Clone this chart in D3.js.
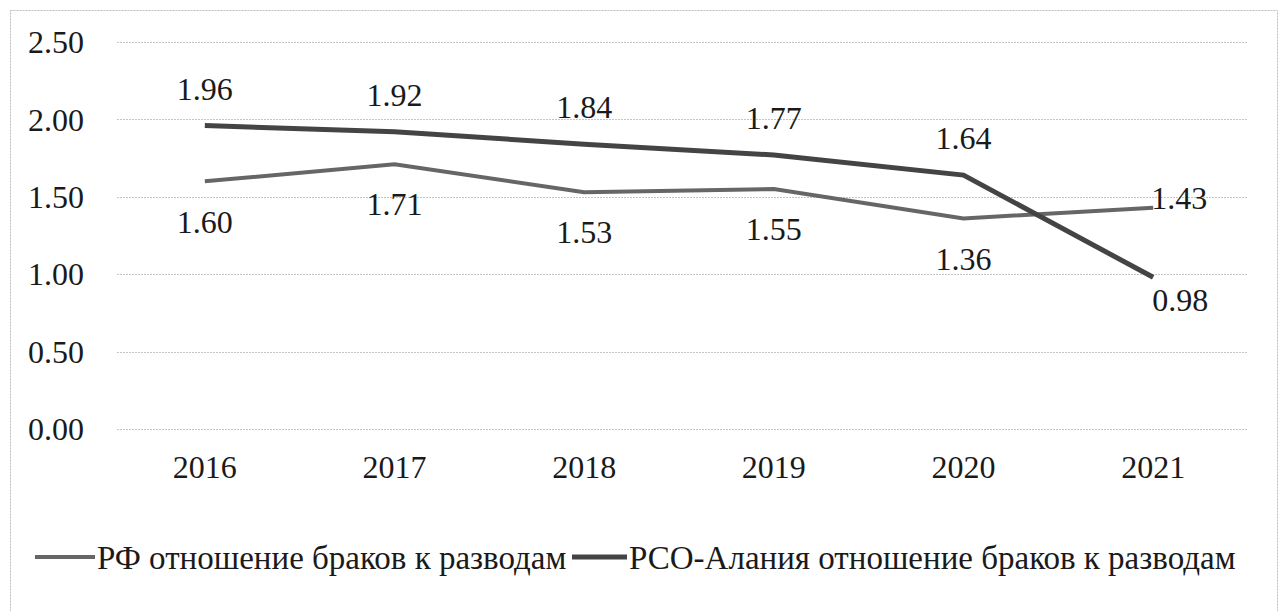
<!DOCTYPE html>
<html>
<head>
<meta charset="utf-8">
<script src="https://cdn.jsdelivr.net/npm/d3@7"></script>
</head>
<body style="margin:0;background:#fff">
<svg id="chart" width="1282" height="611"></svg>
<script>
const years = ["2016", "2017", "2018", "2019", "2020", "2021"];
const rfValues = [1.60, 1.71, 1.53, 1.55, 1.36, 1.43];
const rsoValues = [1.96, 1.92, 1.84, 1.77, 1.64, 0.98];
const yTicks = [0, 0.5, 1, 1.5, 2, 2.5];
const seriesNames = ["РФ отношение браков к разводам", "РСО-Алания отношение браков к разводам"];

const svg = d3.select("#chart");

// every text goes through this so the serif face is set on the element itself
function label(sel, size = 32) {
  return sel
    .attr("font-size", size)
    .attr("fill", "#1a1a1a")
    .style("font-family", "'Liberation Serif', 'Times New Roman', serif");
}

// outer frame
svg.append("rect")
  .attr("x", 10.5).attr("y", 10.5)
  .attr("width", 1267).attr("height", 640)
  .attr("fill", "none")
  .attr("stroke", "#bdbdbd")
  .attr("stroke-dasharray", "2,1");

const x = d3.scaleBand().domain(years).range([110, 1248]);
const y = d3.scaleLinear().domain([0, 2.5]).range([429, 42]);
const cx = (d) => x(d) + x.bandwidth() / 2;

// gridlines
svg.append("g")
  .selectAll("line")
  .data(yTicks)
  .join("line")
  .attr("x1", 117).attr("x2", 1247)
  .attr("y1", (d) => Math.round(y(d)) + 0.5)
  .attr("y2", (d) => Math.round(y(d)) + 0.5)
  .attr("stroke", "#c4c4c4")
  .attr("stroke-dasharray", "2,1");

// y tick labels
svg.append("g")
  .selectAll("text")
  .data(yTicks)
  .join("text")
  .attr("x", 84)
  .attr("y", (d) => y(d))
  .attr("dy", "0.35em")
  .attr("text-anchor", "end")
  .call(label)
  .text((d) => d3.format(".2f")(d));

// x tick labels
svg.append("g")
  .selectAll("text")
  .data(years)
  .join("text")
  .attr("x", cx)
  .attr("y", 467)
  .attr("dy", "0.35em")
  .attr("text-anchor", "middle")
  .call(label)
  .text((d) => d);

const line = d3.line()
  .x((d, i) => cx(years[i]))
  .y((d) => y(d));

svg.append("path")
  .datum(rfValues)
  .attr("d", line)
  .attr("fill", "none")
  .attr("stroke", "#666666")
  .attr("stroke-width", 4);

svg.append("path")
  .datum(rsoValues)
  .attr("d", line)
  .attr("fill", "none")
  .attr("stroke", "#444444")
  .attr("stroke-width", 5);

// data labels, RF below (last one to the right)
svg.append("g")
  .selectAll("text")
  .data(rfValues)
  .join("text")
  .attr("x", (d, i) => (i === 5 ? cx(years[i]) - 2 : cx(years[i])))
  .attr("y", (d, i) => (i === 5 ? y(d) - 10 : y(d) + 40))
  .attr("dy", "0.35em")
  .attr("text-anchor", (d, i) => (i === 5 ? "start" : "middle"))
  .call(label)
  .text((d) => d3.format(".2f")(d));

// data labels, RSO above (last one below right)
svg.append("g")
  .selectAll("text")
  .data(rsoValues)
  .join("text")
  .attr("x", (d, i) => (i === 5 ? cx(years[i]) + 27 : cx(years[i])))
  .attr("y", (d, i) => (i === 5 ? y(d) + 23 : y(d) - 37))
  .attr("dy", "0.35em")
  .attr("text-anchor", "middle")
  .call(label)
  .text((d) => d3.format(".2f")(d));

// legend
const legendItems = [
  { name: seriesNames[0], color: "#666666", width: 4, x0: 35, x1: 95, tx: 97 },
  { name: seriesNames[1], color: "#444444", width: 5, x0: 572, x1: 627, tx: 629 }
];
const legend = svg.append("g")
  .selectAll("g")
  .data(legendItems)
  .join("g");
legend.append("line")
  .attr("x1", (d) => d.x0).attr("x2", (d) => d.x1)
  .attr("y1", 557).attr("y2", 557)
  .attr("stroke", (d) => d.color)
  .attr("stroke-width", (d) => d.width);
legend.append("text")
  .attr("x", (d) => d.tx)
  .attr("y", 557)
  .attr("dy", "0.35em")
  .call(label, 33)
  .text((d) => d.name);
</script>
</body>
</html>
